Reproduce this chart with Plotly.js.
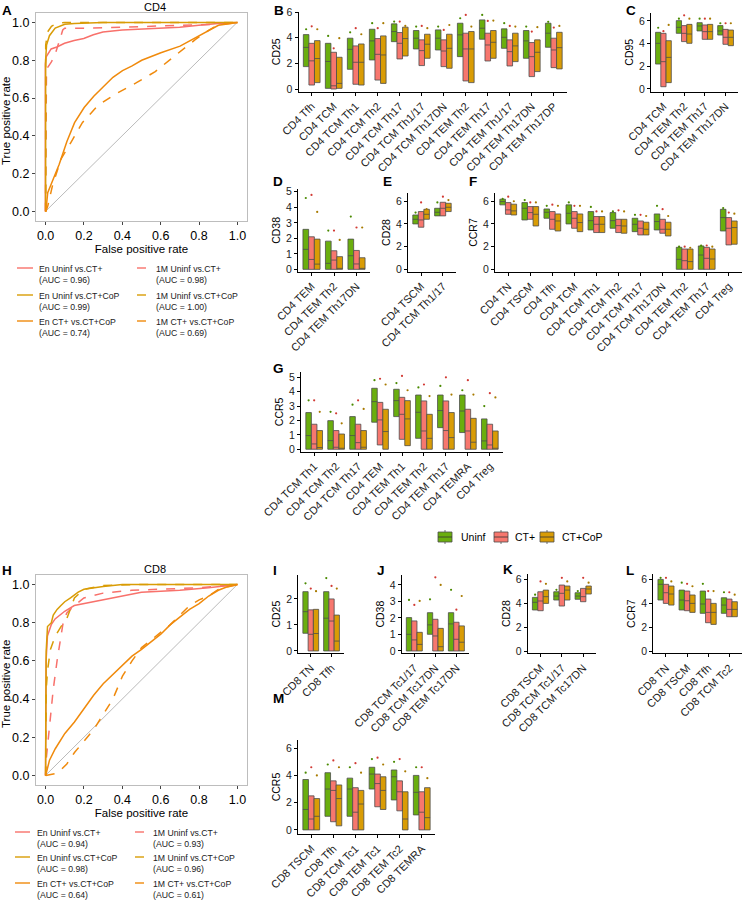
<!DOCTYPE html>
<html>
<head>
<meta charset="utf-8">
<script src="https://cdn.plot.ly/plotly-3.0.1.min.js"></script>
<style>
  html, body { margin: 0; padding: 0; background: #fff; }
  #fig { width: 743px; height: 900px; }
</style>
</head>
<body>
<div id="fig"></div>
<script>
// ---------- ROC curves, CD4 ----------
const cd4EnUninfCtX = [0, 0, 0.005, 0.03, 0.06, 0.1, 0.15, 0.2, 0.25, 0.3, 0.4, 0.5, 0.6, 0.7, 0.8, 0.9, 1.0];
const cd4EnUninfCtY = [0, 0.78, 0.82, 0.86, 0.87, 0.89, 0.905, 0.915, 0.935, 0.95, 0.96, 0.965, 0.97, 0.975, 0.985, 0.995, 1.0];
const cd41mUninfCtX = [0, 0.005, 0.01, 0.03, 0.05, 0.07, 0.09, 0.1, 0.2, 0.4, 0.6, 0.8, 0.87, 1.0];
const cd41mUninfCtY = [0, 0.72, 0.76, 0.79, 0.83, 0.9, 0.96, 0.97, 0.97, 0.975, 0.98, 0.985, 0.99, 1.0];
const cd4EnUninfCopX = [0, 0, 0.005, 0.02, 0.05, 0.1, 0.15, 0.3, 1.0];
const cd4EnUninfCopY = [0, 0.8, 0.88, 0.93, 0.97, 0.99, 0.995, 1.0, 1.0];
const cd41mUninfCopX = [0, 0, 0.01, 0.03, 0.06, 0.1, 0.2, 1.0];
const cd41mUninfCopY = [0, 0.88, 0.95, 0.98, 0.995, 1.0, 1.0, 1.0];
const cd4EnCtCopX = [0, 0.01, 0.03, 0.07, 0.11, 0.15, 0.2, 0.25, 0.3, 0.35, 0.4, 0.45, 0.5, 0.6, 0.7, 0.8, 0.85, 0.9, 1.0];
const cd4EnCtCopY = [0, 0.1, 0.15, 0.25, 0.37, 0.47, 0.55, 0.61, 0.66, 0.71, 0.745, 0.77, 0.8, 0.84, 0.875, 0.93, 0.96, 0.985, 1.0];
const cd41mCtCopX = [0, 0.01, 0.035, 0.08, 0.13, 0.19, 0.27, 0.36, 0.47, 0.57, 0.68, 0.78, 0.85, 0.9, 1.0];
const cd41mCtCopY = [0, 0.03, 0.14, 0.28, 0.365, 0.47, 0.56, 0.62, 0.68, 0.74, 0.83, 0.91, 0.96, 0.988, 1.0];

// ---------- ROC curves, CD8 ----------
const cd8EnUninfCtX = [0, 0.003, 0.01, 0.03, 0.05, 0.1, 0.15, 0.2, 0.3, 0.4, 0.5, 0.7, 0.85, 1.0];
const cd8EnUninfCtY = [0, 0.6, 0.73, 0.79, 0.82, 0.86, 0.89, 0.9, 0.92, 0.94, 0.96, 0.97, 0.983, 1.0];
const cd81mUninfCtX = [0, 0.005, 0.02, 0.04, 0.06, 0.075, 0.09, 0.11, 0.15, 0.2, 0.3, 0.45, 0.6, 0.8, 1.0];
const cd81mUninfCtY = [0, 0.1, 0.25, 0.45, 0.6, 0.7, 0.79, 0.85, 0.89, 0.93, 0.955, 0.97, 0.975, 0.983, 1.0];
const cd8EnUninfCopX = [0, 0.003, 0.01, 0.03, 0.04, 0.06, 0.08, 0.1, 0.13, 0.17, 0.2, 0.3, 0.4, 1.0];
const cd8EnUninfCopY = [0, 0.65, 0.78, 0.8, 0.84, 0.87, 0.89, 0.91, 0.93, 0.96, 0.975, 0.99, 1.0, 1.0];
const cd81mUninfCopX = [0, 0.003, 0.01, 0.025, 0.05, 0.08, 0.11, 0.13, 0.15, 0.2, 0.3, 0.5, 1.0];
const cd81mUninfCopY = [0, 0.45, 0.55, 0.66, 0.73, 0.78, 0.82, 0.87, 0.93, 0.975, 0.995, 1.0, 1.0];
const cd8EnCtCopX = [0, 0.02, 0.05, 0.1, 0.15, 0.2, 0.25, 0.3, 0.35, 0.4, 0.45, 0.5, 0.55, 0.6, 0.65, 0.7, 0.75, 0.8, 0.85, 0.9, 0.95, 1.0];
const cd8EnCtCopY = [0, 0.08, 0.14, 0.22, 0.28, 0.35, 0.42, 0.48, 0.53, 0.58, 0.625, 0.66, 0.7, 0.74, 0.79, 0.83, 0.87, 0.9, 0.94, 0.97, 0.99, 1.0];
const cd81mCtCopX = [0, 0.05, 0.08, 0.11, 0.15, 0.2, 0.25, 0.3, 0.35, 0.4, 0.45, 0.5, 0.55, 0.6, 0.65, 0.7, 0.75, 0.8, 0.85, 0.9, 1.0];
const cd81mCtCopY = [0, 0.01, 0.03, 0.06, 0.12, 0.18, 0.24, 0.32, 0.4, 0.52, 0.6, 0.67, 0.71, 0.75, 0.79, 0.84, 0.89, 0.92, 0.94, 0.975, 1.0];

const chanceLine = [0, 1];

const rocNames = ['En Uninf vs.CT+', '1M Uninf vs.CT+', 'En Uninf vs.CT+CoP', '1M Uninf vs.CT+CoP', 'En CT+ vs.CT+CoP', '1M CT+ vs.CT+CoP'];
const cd4Auc = ['0.96', '0.98', '0.99', '1.00', '0.74', '0.69'];
const cd8Auc = ['0.94', '0.93', '0.98', '0.96', '0.64', '0.61'];

// ---------- per-panel marker summaries (low box edge, median, high box edge, top dot) ----------
const groups = ['Uninf', 'CT+', 'CT+CoP'];

// B: CD25
const bCats = ['CD4 Tfh', 'CD4 TCM', 'CD4 TCM Th1', 'CD4 TCM Th2', 'CD4 TCM Th17', 'CD4 TCM Th1/17', 'CD4 TCM Th17DN', 'CD4 TEM Th2', 'CD4 TEM Th17', 'CD4 TEM Th1/17', 'CD4 TEM Th17DN', 'CD4 TEM Th17DP'];
const bUninfLo  = [1.75, 0.05, 1.54, 2.27, 3.70, 3.13, 3.05, 2.53, 3.89, 3.18, 2.40, 3.26];
const bUninfMed = [3.25, 2.15, 3.10, 3.76, 4.49, 3.97, 3.97, 4.23, 4.75, 4.04, 3.76, 4.36];
const bUninfHi  = [4.25, 3.57, 3.97, 4.67, 5.09, 4.57, 4.62, 5.14, 5.40, 4.70, 4.57, 5.14];
const bUninfMax = [4.67, 4.15, 4.43, 5.14, 5.27, 4.88, 4.88, 5.53, 5.79, 5.14, 4.88, 5.25];
const bCtLo  = [0.31, 0.00, 0.37, 0.70, 2.35, 1.83, 1.75, 0.63, 2.19, 1.80, 0.97, 1.67];
const bCtMed = [2.20, 0.25, 2.09, 2.71, 3.57, 3.00, 2.97, 3.13, 3.44, 2.92, 2.53, 3.05];
const bCtHi  = [3.57, 2.87, 3.37, 3.94, 4.41, 3.84, 3.84, 4.36, 4.36, 3.84, 3.63, 3.97];
const bCtMax = [4.90, 3.18, 4.75, 4.75, 5.27, 4.93, 4.62, 5.79, 5.32, 4.93, 4.49, 4.80];
const bCopLo  = [0.50, 0.05, 0.31, 0.44, 2.58, 2.40, 1.62, 0.50, 2.40, 2.14, 1.36, 1.57];
const bCopMed = [2.38, 0.44, 2.09, 2.66, 3.94, 3.50, 3.18, 3.13, 3.65, 3.37, 2.87, 3.23];
const bCopHi  = [3.78, 2.48, 3.52, 4.15, 4.83, 4.28, 4.28, 4.49, 4.57, 4.36, 3.84, 4.43];
const bCopMax = [4.67, 3.97, 4.28, 5.14, 4.93, 4.75, 5.00, 4.88, 5.35, 4.88, 4.83, 4.93];

// C: CD95
const cCats = ['CD4 TCM', 'CD4 TEM Th2', 'CD4 TEM Th17', 'CD4 TEM Th17DN'];
const cUninfLo  = [2.20, 4.91, 5.12, 4.76];
const cUninfMed = [4.03, 5.44, 5.56, 5.12];
const cUninfHi  = [5.00, 6.03, 5.85, 5.59];
const cUninfMax = [5.40, 6.20, 6.20, 5.80];
const cCtLo  = [0.20, 4.18, 4.38, 3.94];
const cCtMed = [2.41, 4.91, 5.06, 4.56];
const cCtHi  = [4.91, 5.59, 5.65, 5.26];
const cCtMax = [5.10, 6.50, 6.20, 5.80];
const cCopLo  = [0.56, 4.03, 4.38, 3.82];
const cCopMed = [2.79, 4.85, 5.06, 4.56];
const cCopHi  = [4.26, 5.70, 5.70, 5.20];
const cCopMax = [5.65, 6.20, 6.20, 5.80];

// D: CD38
const dCats = ['CD4 TEM', 'CD4 TEM Th2', 'CD4 TEM Th17DN'];
const dUninfLo  = [0, 0, 0];
const dUninfMed = [1.29, 0.39, 0.88];
const dUninfHi  = [2.58, 1.82, 1.95];
const dUninfMax = [4.60, 2.50, 3.40];
const dCtLo  = [0, 0, 0];
const dCtMed = [0.64, 0.60, 0.35];
const dCtHi  = [2.10, 1.20, 1.22];
const dCtMax = [4.80, 2.50, 2.70];
const dCopLo  = [0, 0, 0];
const dCopMed = [0.34, 0.05, 0.05];
const dCopHi  = [1.95, 0.82, 0.75];
const dCopMax = [3.70, 1.90, 2.70];

// E: CD28
const eCats = ['CD4 TSCM', 'CD4 TCM Th1/17'];
const eUninfLo  = [4.00, 4.71];
const eUninfMed = [4.41, 5.03];
const eUninfHi  = [4.79, 5.38];
const eUninfMax = [5.00, 5.90];
const eCtLo  = [3.71, 4.71];
const eCtMed = [4.35, 5.38];
const eCtHi  = [5.09, 5.91];
const eCtMax = [5.90, 6.40];
const eCopLo  = [4.41, 5.09];
const eCopMed = [4.85, 5.47];
const eCopHi  = [5.29, 5.82];
const eCopMax = [5.30, 6.10];

// F: CCR7
const fCats = ['CD4 TN', 'CD4 TSCM', 'CD4 Tfh', 'CD4 TCM', 'CD4 TCM Th1', 'CD4 TCM Th2', 'CD4 TCM Th17', 'CD4 TCM Th17DN', 'CD4 TEM Th2', 'CD4 TEM Th17', 'CD4 Treg'];
const fUninfLo  = [5.68, 4.35, 4.50, 4.00, 3.47, 3.62, 3.32, 3.47, 0, 0, 3.38];
const fUninfMed = [5.97, 5.38, 5.03, 4.94, 4.29, 4.29, 3.97, 4.21, 0.88, 1.26, 4.56];
const fUninfHi  = [6.18, 5.88, 5.32, 5.68, 5.09, 5.00, 4.50, 4.88, 1.94, 2.06, 5.29];
const fUninfMax = [6.20, 6.10, 5.60, 5.90, 5.50, 5.10, 4.80, 5.60, 2.00, 2.10, 5.40];
const fCtLo  = [4.85, 4.41, 3.53, 3.62, 3.24, 3.24, 3.03, 3.18, 0, 0, 2.15];
const fCtMed = [5.24, 5.00, 4.41, 4.50, 3.97, 3.85, 3.62, 3.53, 0.76, 0.97, 3.62];
const fCtHi  = [5.88, 5.53, 5.09, 5.09, 4.65, 4.41, 4.26, 4.41, 1.79, 1.94, 4.56];
const fCtMax = [6.40, 5.90, 5.70, 5.60, 5.10, 5.20, 4.80, 5.30, 2.00, 2.10, 5.00];
const fCopLo  = [4.79, 3.82, 3.38, 3.32, 3.24, 3.18, 3.03, 2.94, 0, 0, 2.21];
const fCopMed = [5.15, 4.85, 4.26, 4.12, 3.97, 3.82, 3.53, 3.53, 0.68, 0.91, 3.68];
const fCopHi  = [5.74, 5.53, 4.88, 4.88, 4.65, 4.41, 4.15, 4.15, 1.79, 1.79, 4.26];
const fCopMax = [6.00, 5.90, 5.60, 5.60, 5.10, 5.10, 4.70, 4.70, 1.90, 2.00, 4.90];

// G: CCR5 (CD4)
const gCats = ['CD4 TCM Th1', 'CD4 TCM Th2', 'CD4 TCM Th17', 'CD4 TEM', 'CD4 TEM Th1', 'CD4 TEM Th2', 'CD4 TEM Th17', 'CD4 TEMRA', 'CD4 Treg'];
const gUninfLo  = [0, 0, 0, 1.88, 2.27, 0.76, 1.50, 1.16, 0];
const gUninfMed = [0.95, 0.60, 0.95, 3.31, 3.38, 2.57, 2.69, 2.66, 0.58];
const gUninfHi  = [2.55, 1.99, 2.27, 4.24, 4.17, 3.77, 3.77, 3.77, 2.11];
const gUninfMax = [3.40, 2.60, 3.10, 4.80, 4.60, 4.30, 4.40, 4.10, 3.00];
const gCtLo  = [0, 0, 0, 0.30, 0.69, 0, 0, 0, 0];
const gCtMed = [0.37, 0.14, 0.46, 2.04, 2.43, 1.27, 1.30, 1.27, 0.30];
const gCtHi  = [1.74, 1.30, 1.74, 3.26, 3.61, 3.36, 3.36, 2.78, 1.74];
const gCtMax = [3.40, 2.50, 3.40, 4.90, 5.10, 4.50, 5.00, 4.80, 3.90];
const gCopLo  = [0, 0, 0, 0, 0.25, 0, 0, 0, 0];
const gCopMed = [0.12, 0.02, 0.14, 1.23, 2.11, 0.76, 0.81, 0.49, 0.07];
const gCopHi  = [1.30, 1.06, 1.30, 2.78, 3.38, 2.43, 2.55, 2.15, 1.27];
const gCopMax = [2.60, 1.80, 2.80, 4.50, 4.10, 3.70, 3.80, 3.80, 3.60];

// I: CD25 (CD8)
const iCats = ['CD8 TN', 'CD8 Tfh'];
const iUninfLo  = [0.68, 0];
const iUninfMed = [1.51, 1.26];
const iUninfHi  = [2.28, 2.28];
const iUninfMax = [2.60, 2.80];
const iCtLo  = [0, 0];
const iCtMed = [0.64, 1.15];
const iCtHi  = [1.58, 2.00];
const iCtMax = [2.40, 2.50];
const iCopLo  = [0, 0];
const iCopMed = [0.67, 0.38];
const iCopHi  = [1.60, 1.38];
const iCopMax = [2.30, 2.40];

// J: CD38 (CD8)
const jCats = ['CD8 TCM Tc1/17', 'CD8 TCM Tc17DN', 'CD8 TEM Tc17DN'];
const jUninfLo  = [0, 1.01, 0];
const jUninfMed = [1.01, 1.58, 1.64];
const jUninfHi  = [2.02, 2.32, 2.32];
const jUninfMax = [3.09, 3.13, 3.70];
const jCtLo  = [0, 0, 0];
const jCtMed = [0.67, 0.91, 0.71];
const jCtHi  = [1.82, 1.92, 1.74];
const jCtMax = [2.79, 4.46, 2.50];
const jCopLo  = [0, 0, 0];
const jCopMed = [0.40, 0.26, 0.53];
const jCopHi  = [1.13, 1.37, 1.52];
const jCopMax = [3.03, 4.00, 3.33];

// K: CD28 (CD8)
const kCats = ['CD8 TSCM', 'CD8 TCM Tc1/17', 'CD8 TCM Tc17DN'];
const kUninfLo  = [3.42, 4.25, 4.31];
const kUninfMed = [4.06, 4.58, 4.58];
const kUninfHi  = [4.47, 4.94, 4.86];
const kUninfMax = [4.70, 5.10, 5.00];
const kCtLo  = [3.36, 3.75, 4.11];
const kCtMed = [4.17, 4.81, 4.53];
const kCtHi  = [4.94, 5.50, 5.22];
const kCtMax = [5.80, 6.10, 6.10];
const kCopLo  = [3.97, 4.25, 4.75];
const kCopMed = [4.53, 5.08, 5.17];
const kCopHi  = [5.08, 5.42, 5.42];
const kCopMax = [5.60, 5.80, 5.70];

// L: CCR7 (CD8)
const lCats = ['CD8 TN', 'CD8 TSCM', 'CD8 Tfh', 'CD8 TCM Tc2'];
const lUninfLo  = [4.25, 3.42, 3.14, 3.14];
const lUninfMed = [5.56, 4.25, 3.92, 3.83];
const lUninfHi  = [5.97, 5.08, 5.00, 4.44];
const lUninfMax = [6.10, 5.70, 5.60, 4.90];
const lCtLo  = [3.97, 3.36, 2.36, 2.86];
const lCtMed = [4.86, 4.19, 3.22, 3.47];
const lCtHi  = [5.56, 5.00, 4.33, 4.33];
const lCtMax = [6.10, 5.60, 5.00, 4.90];
const lCopLo  = [3.83, 3.22, 2.22, 2.86];
const lCopMed = [4.75, 3.97, 3.22, 3.47];
const lCopHi  = [5.42, 4.67, 3.97, 4.11];
const lCopMax = [5.80, 5.40, 5.00, 4.70];

// M: CCR5 (CD8)
const mCats = ['CD8 TSCM', 'CD8 Tfh', 'CD8 TCM Tc1', 'CD8 TEM Tc1', 'CD8 TEM Tc2', 'CD8 TEMRA'];
const mUninfLo  = [0, 1.00, 1.00, 3.00, 2.20, 1.10];
const mUninfMed = [1.50, 3.00, 3.00, 4.10, 3.90, 2.76];
const mUninfHi  = [3.70, 4.20, 3.80, 4.60, 4.40, 4.00];
const mUninfMax = [4.20, 4.80, 4.60, 5.20, 5.00, 4.60];
const mCtLo  = [0, 0.60, 0, 1.70, 1.40, 0];
const mCtMed = [0.80, 2.90, 1.30, 3.40, 2.80, 1.30];
const mCtHi  = [2.50, 3.60, 3.10, 4.10, 3.60, 2.80];
const mCtMax = [4.60, 5.10, 4.90, 5.30, 5.20, 4.60];
const mCopLo  = [0, 0.30, 0, 1.50, 0, 0];
const mCopMed = [1.00, 2.30, 1.90, 2.90, 0.80, 0.90];
const mCopHi  = [2.30, 3.30, 2.90, 3.90, 2.80, 3.10];
const mCopMax = [4.00, 4.60, 4.20, 4.80, 4.30, 3.80];

// ---------- styling ----------
const W = 743, H = 900;
const FONT = 'Liberation Sans, Arial, Helvetica, sans-serif';
const BOX_FILL = ['#6AAE0E', '#F7776E', '#D99C05'];
const DOT_COL = ['#4A8A00', '#D23A34', '#A87A00'];
const ROC_COL = ['#F8716B', '#F8716B', '#D99C05', '#D99C05', '#F08A0C', '#F08A0C'];
const ROC_DASH = ['solid', 'dash', 'solid', 'dash', 'solid', 'dash'];

const px = x => x / W;
const py = y => 1 - y / H;
const dx = (a, b) => [px(a), px(b)];
const dy = (top, bot) => [py(bot), py(top)];

const traces = [];
const layout = {
  width: W, height: H,
  margin: { l: 0, r: 0, t: 0, b: 0 },
  paper_bgcolor: '#fff', plot_bgcolor: '#fff',
  font: { family: FONT, color: '#000', size: 10 },
  showlegend: false,
  boxmode: 'group', boxgap: 0.24, boxgroupgap: 0,
  scattermode: 'group', scattergap: 0.24,
  annotations: [], shapes: []
};

function axKey(n, c) { return (n === 1 ? c + 'axis' : c + 'axis' + n); }
function ref(n, c) { return n === 1 ? c : c + n; }

// ---------- ROC panels ----------
function rocPanel(n, top, bot, title, series, aucs) {
  const common = {
    range: [-0.05, 1.05],
    showline: true, mirror: true, linecolor: '#bdbdbd', linewidth: 1,
    ticks: 'outside', ticklen: 3, tickcolor: '#444', dtick: 0.2, tickformat: '.1f',
    tickfont: { size: 12.5, color: '#000' }, showgrid: false, zeroline: false
  };
  layout[axKey(n, 'x')] = Object.assign({}, common, {
    domain: dx(36, 247), anchor: ref(n, 'y'),
    title: { text: 'False positive rate', font: { size: 11.5 }, standoff: 0 }
  });
  layout[axKey(n, 'y')] = Object.assign({}, common, {
    domain: dy(top, bot), anchor: ref(n, 'x')
  });
  // y-axis caption placed beside the tick labels
  layout.annotations.push({
    xref: 'paper', yref: 'paper', x: px(6), y: py((top + bot) / 2 + 4),
    xanchor: 'center', yanchor: 'middle', textangle: -90, showarrow: false,
    text: 'True positive rate', font: { size: 11.5, color: '#000' }
  });
  traces.push({
    type: 'scatter', mode: 'lines', x: chanceLine, y: chanceLine,
    xaxis: ref(n, 'x'), yaxis: ref(n, 'y'), hoverinfo: 'skip',
    line: { color: '#8c8c8c', width: 0.6 }
  });
  series.forEach((s, i) => {
    traces.push({
      type: 'scatter', mode: 'lines', x: s[0], y: s[1],
      xaxis: ref(n, 'x'), yaxis: ref(n, 'y'),
      name: rocNames[i] + ' (AUC = ' + aucs[i] + ')',
      line: { color: ROC_COL[i], width: 1.5, dash: ROC_DASH[i] }
    });
  });
  layout.annotations.push({
    xref: 'paper', yref: 'paper', x: px(141.5), y: py(top - 6), yanchor: 'middle',
    text: title, showarrow: false, font: { size: 11, color: '#000' }
  });
}

function rocLegend(rowY, aucs, col1, col2) {
  for (let i = 0; i < 6; i++) {
    const c = i % 2 === 0 ? col1 : col2;
    const y0 = rowY[Math.floor(i / 2)];
    layout.shapes.push({
      type: 'line', xref: 'paper', yref: 'paper',
      x0: px(c[0]), x1: px(c[1]), y0: py(y0), y1: py(y0),
      line: { color: ROC_COL[i], width: 1.4, dash: ROC_DASH[i] }
    });
    layout.annotations.push({
      xref: 'paper', yref: 'paper', x: px(c[2]), y: py(y0 - 6), xanchor: 'left', yanchor: 'top',
      align: 'left', showarrow: false,
      text: rocNames[i] + '<br>(AUC = ' + aucs[i] + ')',
      font: { size: 8.7, color: '#222' }
    });
  }
}

rocPanel(1, 13, 221, 'CD4', [
  [cd4EnUninfCtX, cd4EnUninfCtY], [cd41mUninfCtX, cd41mUninfCtY],
  [cd4EnUninfCopX, cd4EnUninfCopY], [cd41mUninfCopX, cd41mUninfCopY],
  [cd4EnCtCopX, cd4EnCtCopY], [cd41mCtCopX, cd41mCtCopY]
], cd4Auc);
rocLegend([268, 295, 321], cd4Auc, [17, 33, 37], [137, 152, 154]);

rocPanel(2, 575, 785, 'CD8', [
  [cd8EnUninfCtX, cd8EnUninfCtY], [cd81mUninfCtX, cd81mUninfCtY],
  [cd8EnUninfCopX, cd8EnUninfCopY], [cd81mUninfCopX, cd81mUninfCopY],
  [cd8EnCtCopX, cd8EnCtCopY], [cd81mCtCopX, cd81mCtCopY]
], cd8Auc);
rocLegend([832, 857, 883], cd8Auc, [15, 30, 35], [135, 149, 151]);

// ---------- box panels ----------
function boxPanel(n, xs, ys, yr, dtick, ytitle, cats, lo, med, hi, mx) {
  layout[axKey(n, 'x')] = {
    domain: dx(xs[0], xs[1]), anchor: ref(n, 'y'), type: 'category',
    categoryorder: 'array', categoryarray: cats, range: [-0.6, cats.length - 0.4],
    showline: true, linecolor: '#000', linewidth: 1, ticks: 'outside', ticklen: 3,
    tickcolor: '#000', tickangle: -45, tickfont: { size: 11, color: '#222' },
    showgrid: false, zeroline: false
  };
  layout[axKey(n, 'y')] = {
    domain: dy(ys[0], ys[1]), anchor: ref(n, 'x'), range: yr, dtick: dtick,
    showline: true, linecolor: '#000', linewidth: 1, ticks: 'outside', ticklen: 3,
    tickcolor: '#000', tickfont: { size: 10.5, color: '#222' },
    showgrid: false, zeroline: false,
    title: { text: ytitle, font: { size: 10.5, color: '#000' }, standoff: 3 }
  };
  for (let s = 0; s < 3; s++) {
    traces.push({
      type: 'box', x: cats, q1: lo[s], median: med[s], q3: hi[s],
      lowerfence: lo[s], upperfence: hi[s],
      xaxis: ref(n, 'x'), yaxis: ref(n, 'y'),
      name: groups[s], legendgroup: groups[s],
      offsetgroup: groups[s], boxpoints: false, whiskerwidth: 0,
      fillcolor: BOX_FILL[s], line: { color: '#4d4d4d', width: 0.8 }
    });
    traces.push({
      type: 'scatter', mode: 'markers', x: cats, y: mx[s],
      xaxis: ref(n, 'x'), yaxis: ref(n, 'y'), offsetgroup: groups[s],
      legendgroup: groups[s], hoverinfo: 'y',
      marker: { size: 2.2, color: DOT_COL[s] }
    });
  }
}

boxPanel(3, [298.5, 567], [11.7, 91.7], [-0.21, 6.04], 2, 'CD25', bCats,
  [bUninfLo, bCtLo, bCopLo], [bUninfMed, bCtMed, bCopMed], [bUninfHi, bCtHi, bCopHi], [bUninfMax, bCtMax, bCopMax]);
boxPanel(4, [651, 738], [12.7, 91.7], [-0.24, 6.73], 2, 'CD95', cCats,
  [cUninfLo, cCtLo, cCopLo], [cUninfMed, cCtMed, cCopMed], [cUninfHi, cCtHi, cCopHi], [cUninfMax, cCtMax, cCopMax]);
boxPanel(5, [298, 370], [189, 271.7], [-0.15, 5.18], 1, 'CD38', dCats,
  [dUninfLo, dCtLo, dCopLo], [dUninfMed, dCtMed, dCopMed], [dUninfHi, dCtHi, dCopHi], [dUninfMax, dCtMax, dCopMax]);
boxPanel(6, [408, 456], [193.3, 271.7], [-0.21, 6.7], 2, 'CD28', eCats,
  [eUninfLo, eCtLo, eCopLo], [eUninfMed, eCtMed, eCopMed], [eUninfHi, eCtHi, eCopHi], [eUninfMax, eCtMax, eCopMax]);
boxPanel(7, [495, 742], [193.3, 271.7], [-0.21, 6.7], 2, 'CCR7', fCats,
  [fUninfLo, fCtLo, fCopLo], [fUninfMed, fCtMed, fCopMed], [fUninfHi, fCtHi, fCopHi], [fUninfMax, fCtMax, fCopMax]);
boxPanel(8, [301, 503], [372, 451.7], [-0.17, 5.37], 1, 'CCR5', gCats,
  [gUninfLo, gCtLo, gCopLo], [gUninfMed, gCtMed, gCopMed], [gUninfHi, gCtHi, gCopHi], [gUninfMax, gCtMax, gCopMax]);
boxPanel(9, [298.3, 344], [575, 653.3], [-0.09, 2.92], 1, 'CD25', iCats,
  [iUninfLo, iCtLo, iCopLo], [iUninfMed, iCtMed, iCopMed], [iUninfHi, iCtHi, iCopHi], [iUninfMax, iCtMax, iCopMax]);
boxPanel(10, [401.7, 469], [575, 653.3], [-0.14, 4.6], 1, 'CD38', jCats,
  [jUninfLo, jCtLo, jCopLo], [jUninfMed, jCtMed, jCopMed], [jUninfHi, jCtHi, jCopHi], [jUninfMax, jCtMax, jCopMax]);
boxPanel(11, [527.7, 596], [574, 653.3], [-0.19, 6.42], 2, 'CD28', kCats,
  [kUninfLo, kCtLo, kCopLo], [kUninfMed, kCtMed, kCopMed], [kUninfHi, kCtHi, kCopHi], [kUninfMax, kCtMax, kCopMax]);
boxPanel(12, [653.3, 742], [574, 653.3], [-0.19, 6.42], 2, 'CCR7', lCats,
  [lUninfLo, lCtLo, lCopLo], [lUninfMed, lCtMed, lCopMed], [lUninfHi, lCtHi, lCopHi], [lUninfMax, lCtMax, lCopMax]);
boxPanel(13, [298, 435], [740, 834], [-0.3, 6.6], 2, 'CCR5', mCats,
  [mUninfLo, mCtLo, mCopLo], [mUninfMed, mCtMed, mCopMed], [mUninfHi, mCtHi, mCopHi], [mUninfMax, mCtMax, mCopMax]);

// ---------- group key (boxes with median line) ----------
const keyIcons = [[438, 452, 459], [494, 508, 513], [540, 554, 560]];
keyIcons.forEach(([x0, x1, tx], s) => {
  layout.shapes.push({
    type: 'rect', xref: 'paper', yref: 'paper',
    x0: px(x0), x1: px(x1), y0: py(542), y1: py(532),
    fillcolor: BOX_FILL[s], line: { color: '#4d4d4d', width: 0.8 }
  });
  layout.shapes.push({
    type: 'line', xref: 'paper', yref: 'paper',
    x0: px(x0), x1: px(x1), y0: py(537), y1: py(537),
    line: { color: '#333', width: 0.8 }
  });
  layout.shapes.push({
    type: 'line', xref: 'paper', yref: 'paper',
    x0: px((x0 + x1) / 2), x1: px((x0 + x1) / 2), y0: py(530), y1: py(532),
    line: { color: '#4d4d4d', width: 0.8 }
  });
  layout.shapes.push({
    type: 'line', xref: 'paper', yref: 'paper',
    x0: px((x0 + x1) / 2), x1: px((x0 + x1) / 2), y0: py(542), y1: py(544),
    line: { color: '#4d4d4d', width: 0.8 }
  });
  layout.annotations.push({
    xref: 'paper', yref: 'paper', x: px(tx), y: py(537), xanchor: 'left', yanchor: 'middle',
    text: groups[s], showarrow: false, font: { size: 10.5, color: '#000' }
  });
});

// ---------- panel letters ----------
const letters = [['A', 0, 1], ['B', 272, 1], ['C', 624, 1], ['D', 271, 172], ['E', 381, 172], ['F', 467, 172],
  ['G', 271, 359], ['H', 0, 561], ['I', 271, 561], ['J', 375, 561], ['K', 501, 560], ['L', 624, 561], ['M', 271, 689]];
letters.forEach(([t, x, y]) => layout.annotations.push({
  xref: 'paper', yref: 'paper', x: px(x), y: py(y), xanchor: 'left', yanchor: 'top',
  text: '<b>' + t + '</b>', showarrow: false, font: { size: 13.5, color: '#000', family: FONT }
}));

Plotly.newPlot('fig', traces, layout, { staticPlot: true, displayModeBar: false });
</script>
</body>
</html>
